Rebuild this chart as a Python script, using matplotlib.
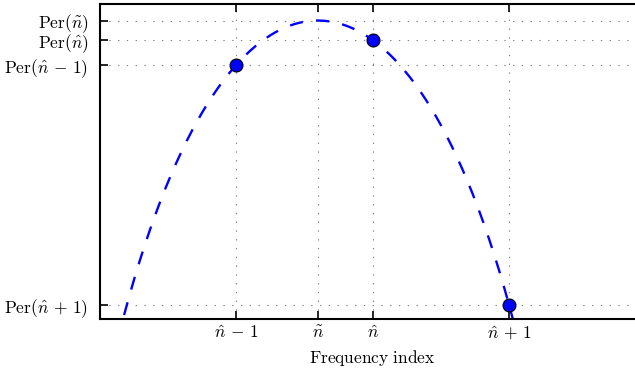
import numpy as np
import matplotlib
matplotlib.use("Agg")
from matplotlib import pyplot as plt
from matplotlib.ticker import NullLocator

plt.rcParams["mathtext.fontset"] = "cm"
plt.rcParams["font.family"] = "serif"

# periodogram samples around the maximum (bins n-1, n, n+1)
bins = np.array([0, 1, 2])
per_samples = np.array([0.9406, 0.9736, 0.6766])
bin_labels = [r"$\hat{n}\,-\,1$", r"$\hat{n}$", r"$\hat{n}\,+\,1$"]
per_labels = [r"$\mathrm{Per}(\hat{n}\,-\,1)$", r"$\mathrm{Per}(\hat{n})$", r"$\mathrm{Per}(\hat{n}\,+\,1)$"]

# quadratic interpolation through the three samples
coef = np.polyfit(bins, per_samples, 2)
n_tilde = -coef[1] / (2 * coef[0])
per_tilde = np.polyval(coef, n_tilde)

xs = np.linspace(-0.82, 2.05, 300)
curve = np.polyval(coef, xs)

fig = plt.figure(figsize=(6.35, 3.69), dpi=100)
ax = fig.add_axes([0.1567, 0.1347, 0.86, 0.8543])

ax.plot(xs, curve, "--", color="blue", lw=1.7, dashes=(5.6, 5.6))
ax.plot(bins, per_samples, "o", color="blue", markeredgecolor="black",
        markersize=9.3, markeredgewidth=0.8, clip_on=False, zorder=5)

ax.set_yscale("log")
ax.set_xlim(-1, 3)
ax.set_ylim(0.6634, 1.0229)

fs = 12.5
xt = [bins[0], n_tilde, bins[1], bins[2]]
ax.set_xticks(xt)
ax.set_xticklabels([bin_labels[0], r"$\tilde{n}$", bin_labels[1], bin_labels[2]], fontsize=fs)
yt = [per_samples[2], per_samples[0], per_samples[1], per_tilde]
ax.set_yticks(yt)
ax.set_yticklabels([per_labels[2], per_labels[0], per_labels[1], r"$\mathrm{Per}(\tilde{n})$"], fontsize=fs)
ax.yaxis.set_minor_locator(NullLocator())
ax.xaxis.set_minor_locator(NullLocator())

ax.tick_params(direction="in", length=6, width=1.2, top=True, right=True)
ax.tick_params(axis="y", pad=8)
ax.tick_params(axis="x", pad=4)
for s in ax.spines.values():
    s.set_linewidth(1.5)

ax.grid(True, ls=(0, (1.2, 6.7)), color="gray", lw=0.8)
ax.set_xlabel(r"$\mathrm{Frequency\ index}$", fontsize=fs, labelpad=4)

plt.savefig("out.png", dpi=100)
